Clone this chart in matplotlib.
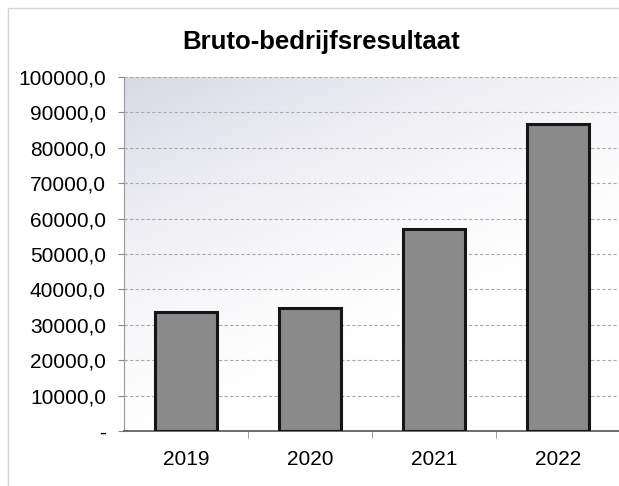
import numpy as np
import matplotlib.pyplot as plt
from matplotlib.patches import Rectangle

plt.rcParams['font.family'] = ['Liberation Sans', 'DejaVu Sans']

years = ['2019', '2020', '2021', '2022']
resultaat = [33600, 34700, 57100, 86700]
y_ticks = [0, 10000, 20000, 30000, 40000, 50000, 60000, 70000, 80000, 90000, 100000]


def fmt(v):
    if v == 0:
        return '-'
    return f'{v:.1f}'.replace('.', ',')


fig = plt.figure(figsize=(6.19, 4.86), dpi=100)
ax = fig.add_axes([124 / 619, 1 - 431 / 486, 496 / 619, 354 / 486])

# kader rond de grafiek (onder- en rechterrand vallen buiten beeld)
fig.patches.append(Rectangle((8 / 619, -0.05), 1.0, 1 - 8 / 486 + 0.05,
                             transform=fig.transFigure, fill=False,
                             edgecolor='#d4d4d4', linewidth=1.0))

# zacht verloop in de achtergrond van het plotvlak
g = np.linspace(0, 1, 200)
gx, gy = np.meshgrid(g, g)
shade = np.clip(1 - (0.6 * gx + 1.0 * (1 - gy)) / 1.1, 0, 1)
top = np.array([0.85, 0.85, 0.90])
bottom = np.array([1.0, 1.0, 1.0])
img = bottom + (top - bottom) * shade[..., None] ** 1.6
ax.imshow(img, extent=[0, 1, 0, 1], transform=ax.transAxes, origin='lower',
          aspect='auto', zorder=0)

x = np.arange(len(years))
ax.bar(x, resultaat, width=0.5, color='#8a8a8a', edgecolor='#151515',
       linewidth=2.2, zorder=3)

ax.set_xlim(-0.5, 3.5)
ax.set_ylim(0, 100000)
ax.set_yticks(y_ticks)
ax.set_yticklabels([fmt(v) for v in y_ticks], fontsize=15)
ax.yaxis.grid(True, color='#aaaaaa', linestyle=(0, (3, 2)), linewidth=0.8, zorder=1)

ax.set_xticks(x)
ax.set_xticklabels(years, fontsize=15)
ax.set_xticks([0.5, 1.5, 2.5], minor=True)
ax.tick_params(axis='x', which='major', length=0, pad=14)
ax.tick_params(axis='x', which='minor', length=5, direction='out', color='#888888')
ax.tick_params(axis='y', length=4, direction='out', color='#888888', pad=9)

for side in ['top', 'right']:
    ax.spines[side].set_visible(False)
ax.spines['left'].set_color('#999999')
ax.spines['bottom'].set_color('#555555')
ax.spines['bottom'].set_linewidth(1.2)

fig.text(0.518, 1 - 42 / 486, 'Bruto-bedrijfsresultaat', ha='center', va='center',
         fontsize=18.5, fontweight='bold')

fig.savefig('out.png', dpi=100)
